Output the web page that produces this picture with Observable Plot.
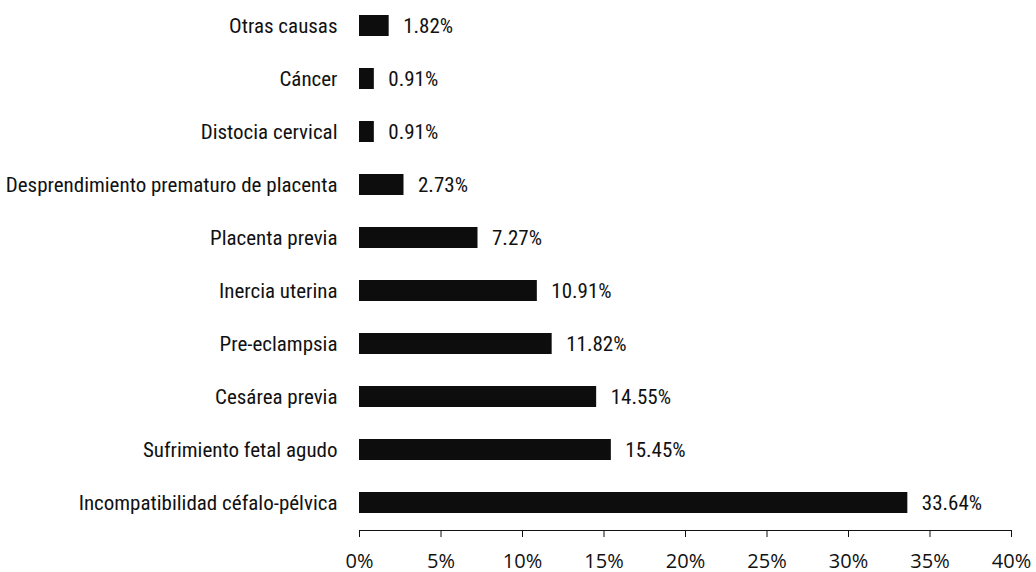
<!DOCTYPE html>
<html>
<head>
<meta charset="utf-8">
<script src="https://cdn.jsdelivr.net/npm/d3@7"></script>
<script src="https://cdn.jsdelivr.net/npm/@observablehq/plot@0.6"></script>
<style>
  html, body { margin: 0; padding: 0; background: #fff; }
  #chart svg { display: block; }
</style>
</head>
<body>
<div id="chart"></div>
<script>
const causes = [
  "Otras causas",
  "Cáncer",
  "Distocia cervical",
  "Desprendimiento prematuro de placenta",
  "Placenta previa",
  "Inercia uterina",
  "Pre-eclampsia",
  "Cesárea previa",
  "Sufrimiento fetal agudo",
  "Incompatibilidad céfalo-pélvica"
];
const percents = [1.82, 0.91, 0.91, 2.73, 7.27, 10.91, 11.82, 14.55, 15.45, 33.64];
const xTicks = [0, 5, 10, 15, 20, 25, 30, 35, 40];

const data = causes.map((c, i) => ({cause: c, value: percents[i]}));
const narrow = "'Roboto Condensed', 'Liberation Sans', sans-serif";

const chart = Plot.plot({
  width: 1036,
  height: 572,
  marginLeft: 359,
  marginRight: 25,
  marginTop: 10,
  marginBottom: 42,
  style: {overflow: "visible"},
  x: {domain: [0, 40], range: [359, 1011]},
  y: {domain: causes, range: [14, 513], paddingInner: 0.605, paddingOuter: 0},
  marks: [
    Plot.barX(data, {x: "value", y: "cause", fill: "#0d0d0d"}),
    Plot.text(data, {
      x: "value", y: "cause",
      text: d => d.value.toFixed(2) + "%",
      dx: 14, textAnchor: "start",
      fontSize: 21, fontFamily: narrow, fill: "#111"
    }),
    Plot.axisY({tickSize: 0, tickPadding: 22, fontSize: 21, fontFamily: narrow, label: null, fill: "#111"}),
    Plot.axisX({
      ticks: xTicks, tickFormat: d => d + "%",
      tickSize: 7, tickPadding: 16, fontSize: 20,
      fontFamily: "'Open Sans', sans-serif", label: null, stroke: "#111", fill: "#111"
    }),
    Plot.frame({anchor: "bottom", stroke: "#111"})
  ]
});
document.getElementById("chart").appendChild(chart);
</script>
</body>
</html>
